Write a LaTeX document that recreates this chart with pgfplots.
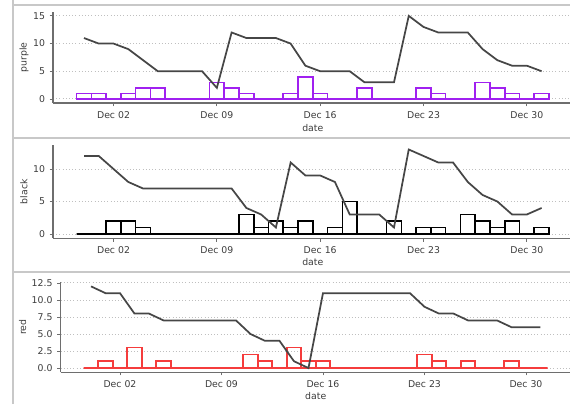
\documentclass[border=0pt]{standalone}
\usepackage{fontspec}
\setmainfont{DejaVu Sans}
\usepackage{pgfplots}
\usepackage{pgfplotstable}
\pgfplotsset{compat=1.18}
\definecolor{spine}{RGB}{110,110,110}
\definecolor{tickc}{RGB}{60,60,60}
\definecolor{linec}{RGB}{70,70,70}
\definecolor{purp}{RGB}{160,32,240}
\definecolor{redc}{RGB}{245,60,60}
\definecolor{framec}{RGB}{200,200,200}
\pgfplotstableread{
d pb bb rb pl bl rl
0 1 0 0 11 12 12
1 1 0 1 10 12 11
2 0 2 0 10 10 11
3 1 2 3 9 8 8
4 2 1 0 7 7 8
5 2 0 1 5 7 7
6 0 0 0 5 7 7
7 0 0 0 5 7 7
8 0 0 0 5 7 7
9 3 0 0 2 7 7
10 2 0 0 12 7 7
11 1 3 2 11 4 5
12 0 1 1 11 3 4
13 0 2 0 11 1 4
14 1 1 3 10 11 1
15 4 2 1 6 9 0
16 1 0 1 5 9 11
17 0 1 0 5 8 11
18 0 5 0 5 3 11
19 2 0 0 3 3 11
20 0 0 0 3 3 11
21 0 2 0 3 1 11
22 0 0 0 15 13 11
23 2 1 2 13 12 9
24 1 1 1 12 11 8
25 0 0 0 12 11 8
26 0 3 1 12 8 7
27 3 2 0 9 6 7
28 2 1 0 7 5 7
29 1 2 1 6 3 6
30 0 0 0 6 3 6
31 1 1 0 5 4 6
}\data
\pgfplotsset{panel/.style={
  scale only axis, anchor=south west,
  axis lines*=left,
  axis line style={draw=spine, line width=0.9pt, -},
  xmin=-2.1, xmax=33.1,
  xtick={2,9,16,23,30},
  xticklabels={Dec 02,Dec 09,Dec 16,Dec 23,Dec 30},
  tick align=outside, major tick length=2.5pt,
  every tick/.style={draw=spine, line width=0.6pt},
  ymajorgrids,
  grid style={draw=gray!50, dotted, line width=0.7pt},
  ticklabel style={font=\fontsize{7}{8}\selectfont, text=tickc},
  label style={font=\fontsize{7}{8}\selectfont, text=tickc},
  /pgf/number format/assume math mode=true,
  xlabel=date,
}}
\begin{document}
\begin{tikzpicture}
\useasboundingbox (0,0) rectangle (427.5pt,303pt);
\draw[framec, line width=1pt] (9.75pt,0) -- (9.75pt,303pt);
\draw[framec, line width=1pt] (9.75pt,299.25pt) -- (430pt,299.25pt);
\draw[framec, line width=1.4pt] (9.75pt,199.5pt) -- (430pt,199.5pt);
\draw[framec, line width=1.4pt] (9.75pt,99pt) -- (430pt,99pt);

\begin{axis}[panel, at={(39.75pt,225.7pt)}, width=389.7pt, height=68.5pt,
  ymin=-0.75, ymax=15.75, ytick={0,5,10,15}, ylabel=purple,
  ylabel style={at={([xshift=-21.75pt]axis description cs:0,0.5)}, anchor=center, rotate=0},
  xlabel style={at={([yshift=-18.75pt]axis description cs:0.5,0)}, anchor=center}]
\addplot[ybar, bar width=1, draw=purp, fill=none, line width=1.2pt] table[x=d,y=pb]{\data};
\addplot[linec, line width=1.3pt, mark=none] table[x=d,y=pl]{\data};
\end{axis}

\begin{axis}[panel, at={(39.75pt,124.35pt)}, width=389.7pt, height=69.7pt,
  ymin=-0.65, ymax=13.65, ytick={0,5,10}, ylabel=black,
  ylabel style={at={([xshift=-21.75pt]axis description cs:0,0.5)}, anchor=center, rotate=0},
  xlabel style={at={([yshift=-18pt]axis description cs:0.5,0)}, anchor=center}]
\addplot[ybar, bar width=1, draw=black, fill=none, line width=1.2pt] table[x=d,y=bb]{\data};
\addplot[linec, line width=1.3pt, mark=none] table[x=d,y=bl]{\data};
\end{axis}

\begin{axis}[panel, at={(45.4pt,23.9pt)}, width=382.8pt, height=67.4pt,
  ymin=-0.6, ymax=12.6, ytick={0,2.5,5,7.5,10,12.5}, ylabel=red,
  yticklabel style={/pgf/number format/.cd, fixed, fixed zerofill, precision=1},
  ylabel style={at={([xshift=-28.5pt]axis description cs:0,0.5)}, anchor=center, rotate=0},
  xlabel style={at={([yshift=-18pt]axis description cs:0.5,0)}, anchor=center}]
\addplot[ybar, bar width=1, draw=redc, fill=none, line width=1.2pt] table[x=d,y=rb]{\data};
\addplot[linec, line width=1.3pt, mark=none] table[x=d,y=rl]{\data};
\end{axis}
\end{tikzpicture}
\end{document}
